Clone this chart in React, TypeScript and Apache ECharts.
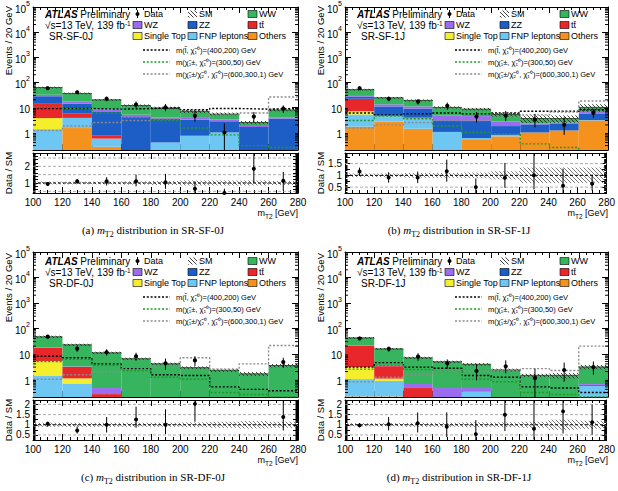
import { useEffect, useRef } from 'react';
import * as echarts from 'echarts';

// ---------------- binning / axes ----------------
const BIN_LOW = [100, 120, 140, 160, 180, 200, 220, 240, 260];
const BIN_WIDTH = 20;
const X_MIN = 100;
const X_MAX = 280;
const X_STEP = 20;
const LOG_MIN = 0.2;
const LOG_MAX = 1e5;

// stack order, bottom -> top
const STACK_NAMES = ['Others', 'FNP leptons', 'Single Top', 'tt\u0304', 'ZZ', 'WZ', 'WW'];
const STACK_COLORS = ['#f5921e', '#6ec6f2', '#f5ee2c', '#e8272b', '#1c5ec6', '#9b6cf0', '#36b45e'];

const SIGNAL_LABELS = [
  'm(l\u0303, \u03c7\u0303\u2081\u2070)=(400,200) GeV',
  'm(\u03c7\u0303\u2081\u00b1, \u03c7\u0303\u2081\u2070)=(300,50) GeV',
  'm(\u03c7\u0303\u2081\u00b1/\u03c7\u0303\u2082\u2070, \u03c7\u0303\u2081\u2070)=(600,300,1) GeV',
];
const SIGNAL_COLORS = ['#000000', '#1e9a28', '#8c8c8c'];

// ---------------- (a) SR-SF-0J ----------------
const A_OTHERS = [0.05, 1.5, 0.27, 0.1, 0, 0, 0, 0, 0];
const A_FNP = [1.3, 2.3, 0.3, 0.1, 0.4, 0.74, 1.0, 0.05, 0.1];
const A_SINGLETOP = [2.4, 0, 0, 0, 0, 0, 0, 0, 0];
const A_TTBAR = [11, 1.8, 0.17, 0, 0, 0, 0, 0, 0];
const A_ZZ = [13, 8.4, 5.8, 3.8, 3.1, 2.5, 1.8, 1.6, 3.5];
const A_WZ = [4, 2.9, 1.5, 1.1, 0.5, 0.6, 0.5, 0.15, 0.3];
const A_WW = [30, 19, 12, 6.8, 5.5, 3.1, 2.1, 0.7, 4];
const A_SM_UNC = [0.08, 0.08, 0.08, 0.1, 0.12, 0.15, 0.15, 0.15, 0.12];
const A_DATA = [58, 40, 22, 13, 10, 4.6, 1, 4.3, 9];
const A_DATA_LO = [50, 34, 17.5, 9.5, 7, 2.7, 0.15, 2.5, 6];
const A_DATA_HI = [66, 46, 27, 17, 13.5, 7, 2.3, 6.5, 12];
const A_RATIO = [0.94, 1.1, 1.1, 1.1, 1.05, 0.66, 0.4, 1.85, 1.13];
const A_RATIO_LO = [0.85, 0.95, 0.85, 0.8, 0.65, 0.34, 0.4, 1.0, 0.57];
const A_RATIO_HI = [1.04, 1.24, 1.35, 1.5, 1.55, 1.1, 0.66, 2.8, 1.66];
const A_SIG_SLEPTON = [9, 9, 8.5, 9, 9.5, 8, 9, 8.5, 9];
const A_SIG_C1C1 = [10, 9, 6, 4, 3, 1.5, 0.8, 0.3, 0.25];
const A_SIG_C1N2 = [1.2, 1.8, 2.5, 3, 3.5, 4, 5, 6, 26];

// ---------------- (b) SR-SF-1J ----------------
const B_OTHERS = [1.7, 2.7, 1.4, 0.05, 0.5, 0.7, 1.0, 1.2, 3.0];
const B_FNP = [3.5, 1.8, 2.3, 1.0, 0.1, 0.1, 0, 0, 0.1];
const B_SINGLETOP = [1.8, 0.1, 0, 0, 0, 0, 0, 0, 0];
const B_TTBAR = [15, 0.3, 0.2, 0, 0, 0, 0, 0, 0];
const B_ZZ = [5, 6, 5, 2.0, 2.3, 1.0, 1.1, 1.1, 2.4];
const B_WZ = [4, 2.3, 2, 1.8, 1.6, 0.9, 0.2, 0.2, 1.0];
const B_WW = [20, 11, 8, 5.1, 4, 2.5, 1.3, 1.1, 3.5];
const B_SM_UNC = [0.08, 0.08, 0.1, 0.1, 0.12, 0.17, 0.33, 0.33, 0.33];
const B_DATA = [58, 22, 17, 11.5, 4.3, 4.7, 3.3, 2.0, 6];
const B_DATA_LO = [50, 17.5, 13, 8, 2.5, 2.8, 1.6, 0.8, 3.8];
const B_DATA_HI = [66, 27, 21, 15.5, 6.5, 7.2, 5.5, 4.0, 8.5];
const B_RATIO = [1.16, 0.91, 0.91, 1.17, 0.5, 0.9, 1.0, 0.56, 0.64];
const B_RATIO_LO = [0.97, 0.69, 0.67, 0.73, 0.25, 0.47, 0.4, 0.25, 0.36];
const B_RATIO_HI = [1.33, 1.13, 1.16, 1.67, 0.87, 1.53, 1.95, 1.29, 1.03];
const B_SIG_SLEPTON = [6, 5, 5.5, 6, 5.5, 6, 7, 7, 8];
const B_SIG_C1C1 = [3, 4.5, 3.5, 1.8, 1.0, 0.9, 0.35, 0.25, 0.1];
const B_SIG_C1N2 = [1.5, 2, 2.5, 3, 3, 4, 5, 6.5, 18];

// ---------------- (c) SR-DF-0J ----------------
const C_OTHERS = [0, 0, 0, 0, 0, 0, 0, 0, 0];
const C_FNP = [1.4, 0.68, 0, 0, 0, 0, 0, 0, 0];
const C_SINGLETOP = [3.8, 0.4, 0, 0, 0, 0, 0, 0, 0];
const C_TTBAR = [12, 2.0, 0.26, 0.1, 0.05, 0, 0, 0, 0];
const C_ZZ = [0.1, 0, 0, 0, 0, 0, 0, 0, 0];
const C_WZ = [0.3, 0.1, 0.19, 0.1, 0.1, 0.05, 0.05, 0.03, 0.05];
const C_WW = [29, 19.4, 10.5, 6.2, 3.9, 2.8, 2.2, 1.6, 3.4];
const C_SM_UNC = [0.1, 0.1, 0.1, 0.1, 0.1, 0.12, 0.15, 0.18, 0.15];
const C_DATA = [47, 16, 11.5, 8, 4.2, 5.5, null, null, 4.7];
const C_DATA_LO = [40, 12, 8.5, 5.3, 2.3, 3.3, null, null, 2.8];
const C_DATA_HI = [54, 20, 15, 11, 6.5, 8, null, null, 7];
const C_RATIO = [1.05, 0.72, 1.0, 1.26, 1.0, 2.03, null, null, 1.38];
const C_RATIO_LO = [0.9, 0.57, 0.62, 0.85, 0.54, 1.15, null, null, 0.72];
const C_RATIO_HI = [1.15, 0.92, 1.38, 1.89, 1.76, 2.22, null, null, 2.22];
const C_SIG_SLEPTON = [8, 7, 4, 2.6, 1.5, 1.4, 0.5, 0.4, 0.35];
const C_SIG_C1C1 = [5, 6, 3.5, 2.2, 1.2, 1.0, 0.3, 0.25, 0.2];
const C_SIG_C1N2 = [1, 1.5, 2, 2.5, 3, 7, 2.5, 4, 21];

// ---------------- (d) SR-DF-1J ----------------
const D_OTHERS = [0.21, 0.21, 0, 0, 0, 0, 0, 0, 0];
const D_FNP = [0.8, 0.65, 0, 0, 0.32, 0, 0, 0, 0.55];
const D_SINGLETOP = [2, 0.2, 0, 0, 0, 0, 0, 0, 0];
const D_TTBAR = [18, 2.2, 0.45, 0, 0, 0, 0, 0, 0];
const D_ZZ = [0, 0, 0, 0, 0, 0, 0, 0, 0.05];
const D_WZ = [0.3, 0.1, 0.2, 0.45, 0.13, 0.02, 0.02, 0.02, 0.05];
const D_WW = [21, 12.3, 6.3, 4.4, 3.4, 2.3, 1.4, 1.4, 2.4];
const D_SM_UNC = [0.08, 0.08, 0.1, 0.1, 0.12, 0.12, 0.15, 0.25, 0.2];
const D_DATA = [40, 15.6, 7.7, 4.2, 2.1, 3.2, 1.1, 2.3, 3.0];
const D_DATA_LO = [35, 12, 5.3, 2.6, 0.9, 1.7, 0.2, 0.8, 1.5];
const D_DATA_HI = [46, 19, 10.5, 6, 3.9, 5.5, 2.6, 4.5, 5];
const D_RATIO = [0.97, 1.03, 1.08, 0.9, 0.54, 1.49, 0.8, 1.66, 1.12];
const D_RATIO_LO = [0.88, 0.72, 0.62, 0.39, 0.25, 0.69, 0.27, 0.57, 0.51];
const D_RATIO_HI = [1.08, 1.38, 1.61, 1.61, 1.23, 2.22, 2.22, 2.22, 1.99];
const D_SIG_SLEPTON = [3, 4.5, 3, 2.7, 1.4, 1.2, 0.5, 0.45, 0.3];
const D_SIG_C1C1 = [2.5, 3.5, 2.4, 2, 1.0, 0.8, 0.3, 0.25, 0.2];
const D_SIG_C1N2 = [0.8, 1.2, 1.5, 2, 2, 2.2, 2.6, 2.2, 20];

// ---------------- panel assembly ----------------
const PANELS = [
  {
    region: 'SR-SF-0J', tag: '(a)',
    stack: [A_OTHERS, A_FNP, A_SINGLETOP, A_TTBAR, A_ZZ, A_WZ, A_WW], unc: A_SM_UNC,
    data: A_DATA, dataLo: A_DATA_LO, dataHi: A_DATA_HI,
    ratio: A_RATIO, ratioLo: A_RATIO_LO, ratioHi: A_RATIO_HI,
    signals: [A_SIG_SLEPTON, A_SIG_C1C1, A_SIG_C1N2],
    layout: { left: 33, top: 5, width: 265, mainH: 145, rTop: 153, rH: 40, rMin: 0.4, rMax: 2.8, rStep: 0.2, rMinor: 4, rLabels: [1, 2], rGrid: [0.5, 1, 1.5, 2, 2.5], capX: 153 },
  },
  {
    region: 'SR-SF-1J', tag: '(b)',
    stack: [B_OTHERS, B_FNP, B_SINGLETOP, B_TTBAR, B_ZZ, B_WZ, B_WW], unc: B_SM_UNC,
    data: B_DATA, dataLo: B_DATA_LO, dataHi: B_DATA_HI,
    ratio: B_RATIO, ratioLo: B_RATIO_LO, ratioHi: B_RATIO_HI,
    signals: [B_SIG_SLEPTON, B_SIG_C1C1, B_SIG_C1N2],
    layout: { left: 345, top: 5, width: 263, mainH: 145, rTop: 153, rH: 40, rMin: 0.25, rMax: 1.95, rStep: 0.25, rMinor: 5, rLabels: [0.5, 1, 1.5], rGrid: [0.5, 1, 1.5], capX: 459 },
  },
  {
    region: 'SR-DF-0J', tag: '(c)',
    stack: [C_OTHERS, C_FNP, C_SINGLETOP, C_TTBAR, C_ZZ, C_WZ, C_WW], unc: C_SM_UNC,
    data: C_DATA, dataLo: C_DATA_LO, dataHi: C_DATA_HI,
    ratio: C_RATIO, ratioLo: C_RATIO_LO, ratioHi: C_RATIO_HI,
    signals: [C_SIG_SLEPTON, C_SIG_C1C1, C_SIG_C1N2],
    layout: { left: 33, top: 252, width: 265, mainH: 145, rTop: 400, rH: 40, rMin: 0.25, rMax: 2.22, rStep: 0.25, rMinor: 5, rLabels: [0.5, 1, 1.5, 2], rGrid: [0.5, 1, 1.5, 2], capX: 153 },
  },
  {
    region: 'SR-DF-1J', tag: '(d)',
    stack: [D_OTHERS, D_FNP, D_SINGLETOP, D_TTBAR, D_ZZ, D_WZ, D_WW], unc: D_SM_UNC,
    data: D_DATA, dataLo: D_DATA_LO, dataHi: D_DATA_HI,
    ratio: D_RATIO, ratioLo: D_RATIO_LO, ratioHi: D_RATIO_HI,
    signals: [D_SIG_SLEPTON, D_SIG_C1C1, D_SIG_C1N2],
    layout: { left: 345, top: 252, width: 263, mainH: 145, rTop: 400, rH: 40, rMin: 0.25, rMax: 2.22, rStep: 0.25, rMinor: 5, rLabels: [0.5, 1, 1.5, 2], rGrid: [0.5, 1, 1.5, 2], capX: 459 },
  },
];

const FONT = '"Liberation Sans", Arial, Helvetica, sans-serif';
const SERIF = '"Liberation Serif", "Times New Roman", serif';

function makeHatch(color: string, size: number, width: number) {
  const c = document.createElement('canvas');
  c.width = size;
  c.height = size;
  const ctx = c.getContext('2d') as CanvasRenderingContext2D;
  ctx.strokeStyle = color;
  ctx.lineWidth = width;
  ctx.beginPath();
  ctx.moveTo(-1, -1);
  ctx.lineTo(size + 1, size + 1);
  ctx.moveTo(-1, size - 1);
  ctx.lineTo(1, size + 1);
  ctx.moveTo(size - 1, -1);
  ctx.lineTo(size + 1, 1);
  ctx.stroke();
  return { image: c.toDataURL(), repeat: 'repeat', imageWidth: size, imageHeight: size };
}

const clampV = (v: number, lo: number, hi: number) => Math.max(lo, Math.min(hi, v));

function buildOption() {
  const hatchMain = makeHatch('#2a2a2a', 4, 0.9);
  const hatchRatio = makeHatch('#6a6a6a', 4, 0.9);
  const grid: any[] = [];
  const xAxis: any[] = [];
  const yAxis: any[] = [];
  const series: any[] = [];
  const elements: any[] = [];

  const axisLine = { show: true, onZero: false, lineStyle: { color: '#000', width: 1 } };
  const tickStyle = { color: '#000', width: 1 };

  const txt = (x: number, y: number, text: string, o: any = {}, extra: any = {}) => ({
    type: 'text', x, y, silent: true, z: 60, ...extra,
    style: { text, fill: '#000', fontFamily: FONT, fontSize: 9, align: 'left', verticalAlign: 'middle', ...o },
  });
  const box = (x: number, y: number, fill: any) => ({
    type: 'rect', silent: true, z: 60,
    shape: { x, y, width: 9, height: 7 },
    style: { fill, stroke: '#000', lineWidth: 0.6 },
  });

  PANELS.forEach((p, i) => {
    const L = p.layout;
    const gMain = 2 * i;
    const gRatio = 2 * i + 1;
    grid.push({ left: L.left, top: L.top, width: L.width, height: L.mainH, show: false });
    grid.push({ left: L.left, top: L.rTop, width: L.width, height: L.rH, show: false });

    const xAx = (g: number, pos: string, labels: boolean) => ({
      type: 'value', gridIndex: g, position: pos, min: X_MIN, max: X_MAX, interval: X_STEP,
      axisLine,
      axisTick: { show: true, inside: true, length: 6, lineStyle: tickStyle },
      minorTick: { show: true, splitNumber: 4, length: 3, lineStyle: tickStyle },
      axisLabel: { show: labels, fontSize: 10, color: '#000', margin: 4, fontFamily: FONT },
      splitLine: { show: false },
    });
    xAxis.push(xAx(gMain, 'bottom', false), xAx(gMain, 'top', false), xAx(gRatio, 'bottom', true), xAx(gRatio, 'top', false));

    const logAx = (pos: string, labels: boolean) => ({
      type: 'log', logBase: 10, gridIndex: gMain, position: pos, min: LOG_MIN, max: LOG_MAX,
      axisLine,
      axisTick: { show: true, inside: true, length: 6, lineStyle: tickStyle },
      axisLabel: {
        show: labels, margin: 3, color: '#000',
        formatter: (v: number) => {
          const k = Math.round(Math.log10(v));
          if (Math.abs(v / Math.pow(10, k) - 1) > 1e-3) return '';
          if (k === 0) return '{b|1}';
          if (k === 1) return '{b|10}';
          return '{b|10}{s|' + k + '}';
        },
        rich: {
          b: { fontSize: 10, fontFamily: FONT, color: '#000', lineHeight: 14, verticalAlign: 'bottom' },
          s: { fontSize: 7, fontFamily: FONT, color: '#000', verticalAlign: 'top' },
        },
      },
      splitLine: { show: false },
    });
    const ratioAx = (pos: string, labels: boolean) => ({
      type: 'value', gridIndex: gRatio, position: pos, min: L.rMin, max: L.rMax, interval: L.rStep,
      axisLine,
      axisTick: { show: true, inside: true, length: 5, lineStyle: tickStyle },
      minorTick: { show: true, splitNumber: L.rMinor, length: 2.5, lineStyle: tickStyle },
      axisLabel: {
        show: labels, margin: 3, color: '#000', fontSize: 10, fontFamily: FONT,
        formatter: (v: number) => {
          const hit = L.rLabels.find((l) => Math.abs(l - v) < 1e-6);
          return hit === undefined ? '' : String(hit);
        },
      },
      splitLine: { show: false },
    });
    yAxis.push(logAx('left', true), logAx('right', false), ratioAx('left', true), ratioAx('right', false));

    const xm = 4 * i;
    const xr = 4 * i + 2;

    // ---- stacked backgrounds + SM uncertainty band ----
    series.push({
      type: 'custom', xAxisIndex: xm, yAxisIndex: xm, silent: true, z: 2,
      data: BIN_LOW.map((x, b) => [x, ...p.stack.map((s) => s[b]), p.unc[b]]),
      renderItem: (params: any, api: any) => {
        const x0 = api.value(0);
        const x1 = x0 + BIN_WIDTH;
        const children: any[] = [];
        let cum = 0;
        for (let k = 0; k < STACK_NAMES.length; k++) {
          const v = api.value(1 + k);
          const lo = cum;
          const hi = cum + v;
          cum = hi;
          if (!(v > 0) || hi <= LOG_MIN) continue;
          const pa = api.coord([x0, clampV(Math.max(lo, LOG_MIN), LOG_MIN, LOG_MAX)]);
          const pb = api.coord([x1, clampV(hi, LOG_MIN, LOG_MAX)]);
          children.push({
            type: 'rect',
            shape: { x: pa[0], y: pb[1], width: pb[0] - pa[0], height: pa[1] - pb[1] },
            style: { fill: STACK_COLORS[k] },
          });
        }
        const u = api.value(1 + STACK_NAMES.length);
        const ua = api.coord([x0, clampV(cum * (1 - u), LOG_MIN, LOG_MAX)]);
        const ub = api.coord([x1, clampV(cum * (1 + u), LOG_MIN, LOG_MAX)]);
        children.push({
          type: 'rect',
          shape: { x: ua[0], y: ub[1], width: ub[0] - ua[0], height: ua[1] - ub[1] },
          style: { fill: hatchMain },
        });
        const ta = api.coord([x0, cum]);
        const tb = api.coord([x1, cum]);
        children.push({ type: 'line', shape: { x1: ta[0], y1: ta[1], x2: tb[0], y2: tb[1] }, style: { stroke: '#1a3a1a', lineWidth: 0.8 } });
        return { type: 'group', children };
      },
    });

    // ---- log minor ticks (left/right frame) ----
    const minorVals: number[][] = [];
    for (let e = -1; e <= 4; e++) {
      for (let m = 2; m <= 9; m++) {
        const v = m * Math.pow(10, e);
        if (v > LOG_MIN && v < LOG_MAX) minorVals.push([X_MIN, v]);
      }
    }
    series.push({
      type: 'custom', xAxisIndex: xm, yAxisIndex: xm, silent: true, z: 5,
      data: minorVals,
      renderItem: (params: any, api: any) => {
        const a = api.coord([X_MIN, api.value(1)]);
        const b = api.coord([X_MAX, api.value(1)]);
        return {
          type: 'group',
          children: [
            { type: 'line', shape: { x1: a[0], y1: a[1], x2: a[0] + 3, y2: a[1] }, style: { stroke: '#000', lineWidth: 1 } },
            { type: 'line', shape: { x1: b[0] - 3, y1: b[1], x2: b[0], y2: b[1] }, style: { stroke: '#000', lineWidth: 1 } },
          ],
        };
      },
    });

    // ---- signal step lines ----
    p.signals.forEach((sig, s) => {
      series.push({
        type: 'line', xAxisIndex: xm, yAxisIndex: xm, step: 'end', silent: true, z: 4,
        symbol: 'none', showSymbol: false, clip: true,
        data: BIN_LOW.map((x, b) => [x, sig[b]]).concat([[X_MAX, sig[sig.length - 1]]]),
        lineStyle: { color: SIGNAL_COLORS[s], width: 1.4, type: [2, 1.8] },
      });
    });

    // ---- data points (main) ----
    const pointRender = (lo: number, hi: number, log: boolean) => (params: any, api: any) => {
      const x = api.value(0);
      const c = api.coord([x, clampV(api.value(1), lo, hi)]);
      const a = api.coord([x, clampV(api.value(2), lo, hi)]);
      const b = api.coord([x, clampV(api.value(3), lo, hi)]);
      return {
        type: 'group',
        children: [
          { type: 'line', shape: { x1: a[0], y1: a[1], x2: b[0], y2: b[1] }, style: { stroke: '#000', lineWidth: 1 } },
          { type: 'circle', shape: { cx: c[0], cy: c[1], r: log ? 2.1 : 2 }, style: { fill: '#000' } },
        ],
      };
    };
    series.push({
      type: 'custom', xAxisIndex: xm, yAxisIndex: xm, silent: true, z: 6,
      data: BIN_LOW.map((x, b) => [x + BIN_WIDTH / 2, p.data[b], p.dataLo[b], p.dataHi[b]]).filter((d) => d[1] != null),
      renderItem: pointRender(LOG_MIN, LOG_MAX, true),
    });

    // ---- ratio band ----
    series.push({
      type: 'custom', xAxisIndex: xr, yAxisIndex: xr, silent: true, z: 2,
      data: BIN_LOW.map((x, b) => [x, p.unc[b]]),
      renderItem: (params: any, api: any) => {
        const x0 = api.value(0);
        const u = api.value(1);
        const a = api.coord([x0, 1 - u]);
        const b = api.coord([x0 + BIN_WIDTH, 1 + u]);
        return { type: 'rect', shape: { x: a[0], y: b[1], width: b[0] - a[0], height: a[1] - b[1] }, style: { fill: hatchRatio } };
      },
    });
    // ---- ratio dashed grid lines ----
    series.push({
      type: 'custom', xAxisIndex: xr, yAxisIndex: xr, silent: true, z: 3,
      data: L.rGrid.map((v) => [X_MIN, v]),
      renderItem: (params: any, api: any) => {
        const v = api.value(1);
        const a = api.coord([X_MIN, v]);
        const b = api.coord([X_MAX, v]);
        const one = Math.abs(v - 1) < 1e-6;
        return {
          type: 'line', shape: { x1: a[0], y1: a[1], x2: b[0], y2: b[1] },
          style: { stroke: one ? '#000' : '#9a9a9a', lineWidth: one ? 1 : 0.8, lineDash: [3, 2] },
        };
      },
    });
    // ---- ratio points ----
    series.push({
      type: 'custom', xAxisIndex: xr, yAxisIndex: xr, silent: true, z: 6,
      data: BIN_LOW.map((x, b) => [x + BIN_WIDTH / 2, p.ratio[b], p.ratioLo[b], p.ratioHi[b]]).filter((d) => d[1] != null),
      renderItem: pointRender(L.rMin, L.rMax, false),
    });

    // ---------------- text and legend ----------------
    const ox = L.left;
    const oy = L.top;
    const rows = [oy + 9, oy + 20, oy + 31];
    elements.push(txt(ox + 12, rows[0], '{a|ATLAS} {p|Preliminary}', {
      fontSize: 10,
      rich: {
        a: { fontSize: 10, fontFamily: FONT, fontWeight: 'bold', fontStyle: 'italic', fill: '#000', lineHeight: 11 },
        p: { fontSize: 10, fontFamily: FONT, fill: '#000', lineHeight: 11 },
      },
    }));
    elements.push(txt(ox + 12, rows[1], '{n|\u221as=13 TeV, 139 fb}{s|-1}', {
      fontSize: 10,
      rich: {
        n: { fontSize: 10, fontFamily: FONT, fill: '#000', lineHeight: 11, verticalAlign: 'bottom' },
        s: { fontSize: 6.5, fontFamily: FONT, fill: '#000', verticalAlign: 'top' },
      },
    }));
    elements.push(txt(ox + 16, rows[2] + 0.5, p.region, { fontSize: 10 }));

    // col 1: Data, WZ, Single Top
    elements.push({ type: 'line', silent: true, z: 60, shape: { x1: ox + 104.5, y1: rows[0] - 4, x2: ox + 104.5, y2: rows[0] + 4 }, style: { stroke: '#000', lineWidth: 1 } });
    elements.push({ type: 'circle', silent: true, z: 60, shape: { cx: ox + 104.5, cy: rows[0], r: 2 }, style: { fill: '#000' } });
    elements.push(txt(ox + 111, rows[0], 'Data'));
    elements.push(box(ox + 100, rows[1] - 3.5, STACK_COLORS[5]));
    elements.push(txt(ox + 111, rows[1], 'WZ'));
    elements.push(box(ox + 100, rows[2] - 3.5, STACK_COLORS[2]));
    elements.push(txt(ox + 111, rows[2], 'Single Top'));
    // col 2: SM, ZZ, FNP leptons
    elements.push({ type: 'rect', silent: true, z: 60, shape: { x: ox + 155, y: rows[0] - 3.5, width: 9, height: 7 }, style: { fill: hatchMain } });
    elements.push(txt(ox + 166, rows[0], 'SM'));
    elements.push(box(ox + 155, rows[1] - 3.5, STACK_COLORS[4]));
    elements.push(txt(ox + 166, rows[1], 'ZZ'));
    elements.push(box(ox + 155, rows[2] - 3.5, STACK_COLORS[1]));
    elements.push(txt(ox + 166, rows[2], 'FNP leptons'));
    // col 3: WW, ttbar, Others
    elements.push(box(ox + 215, rows[0] - 3.5, STACK_COLORS[6]));
    elements.push(txt(ox + 226, rows[0], 'WW'));
    elements.push(box(ox + 215, rows[1] - 3.5, STACK_COLORS[3]));
    elements.push(txt(ox + 226, rows[1], 't\u0074\u0304'));
    elements.push(box(ox + 215, rows[2] - 3.5, STACK_COLORS[0]));
    elements.push(txt(ox + 226, rows[2], 'Others'));
    // signal lines
    [oy + 45, oy + 57, oy + 69].forEach((yy, s) => {
      elements.push({ type: 'line', silent: true, z: 60, shape: { x1: ox + 110, y1: yy, x2: ox + 137, y2: yy }, style: { stroke: SIGNAL_COLORS[s], lineWidth: 1.4, lineDash: [2, 1.8] } });
      elements.push(txt(ox + 143, yy, SIGNAL_LABELS[s], { fontSize: 7.5 }));
    });

    // axis titles
    elements.push(txt(ox - 25, oy + 1, 'Events / 20 GeV', { fontSize: 9.5, align: 'right' }, { rotation: Math.PI / 2 }));
    elements.push(txt(ox - 25, L.rTop + L.rH / 2, 'Data / SM', { fontSize: 9.5, align: 'center' }, { rotation: Math.PI / 2 }));
    const rb = L.rTop + L.rH;
    elements.push(txt(ox + L.width, rb + 21, '{b|m}{s|T2}{b| [GeV]}', {
      align: 'right', fontSize: 9,
      rich: {
        b: { fontSize: 9, fontFamily: FONT, fill: '#000', lineHeight: 12, verticalAlign: 'top' },
        s: { fontSize: 6.5, fontFamily: FONT, fill: '#000', verticalAlign: 'bottom' },
      },
    }));
    // caption
    elements.push(txt(L.capX, rb + 38, '{b|' + p.tag + ' }{i|m}{s|T2}{b| distribution in ' + p.region + '}', {
      align: 'center', fontSize: 11, fontFamily: SERIF,
      rich: {
        b: { fontSize: 11, fontFamily: SERIF, fill: '#000', lineHeight: 14, verticalAlign: 'top' },
        i: { fontSize: 11, fontFamily: SERIF, fontStyle: 'italic', fill: '#000', lineHeight: 14, verticalAlign: 'top' },
        s: { fontSize: 8, fontFamily: SERIF, fill: '#000', verticalAlign: 'bottom' },
      },
    }));
  });

  return {
    animation: false,
    backgroundColor: '#ffffff',
    textStyle: { fontFamily: FONT },
    grid,
    xAxis,
    yAxis,
    series,
    graphic: { elements },
  };
}

export default function App() {
  const ref = useRef<HTMLDivElement>(null);
  useEffect(() => {
    if (!ref.current) return;
    const chart = echarts.init(ref.current, null, { renderer: 'svg' });
    chart.setOption(buildOption() as any);
    return () => {
      chart.dispose();
    };
  }, []);
  return (
    <div
      ref={ref}
      style={{ position: 'fixed', left: 0, top: 0, width: 618, height: 491, background: '#fff' }}
    />
  );
}
